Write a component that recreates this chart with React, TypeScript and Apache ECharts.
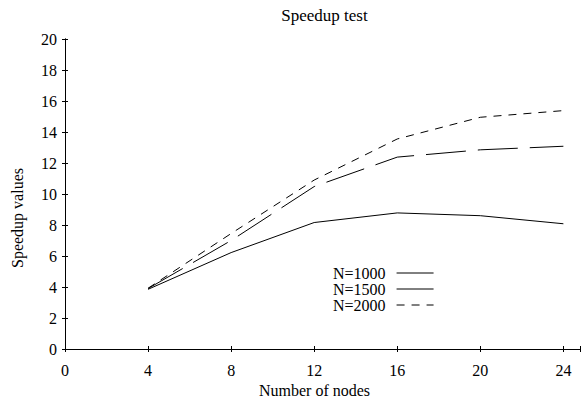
import React, { useEffect, useRef } from "react";
import * as echarts from "echarts";

const xValues = [4, 8, 12, 16, 20, 24];
const n1000 = [3.85, 6.22, 8.16, 8.78, 8.6, 8.08];
const n1500 = [3.9, 7.0, 10.48, 12.38, 12.85, 13.08];
const n2000 = [3.92, 7.45, 10.9, 13.55, 14.95, 15.38];
const seriesNames = ["N=1000", "N=1500", "N=2000"];
const xTicks = [0, 4, 8, 12, 16, 20, 24];

const FONT = "'Liberation Serif', 'DejaVu Serif', serif";

export default function App() {
  const ref = useRef<HTMLDivElement>(null);
  useEffect(() => {
    if (!ref.current) return;
    const chart = echarts.init(ref.current, undefined, { renderer: "svg" });
    const axisCommon = {
      type: "value" as const,
      axisLine: { show: true, lineStyle: { color: "#000", width: 1 } },
      axisTick: { show: true, inside: true, length: 3, lineStyle: { color: "#000", width: 1 } },
      splitLine: { show: false },
    };
    const mk = (name: string, vals: number[], dash: any) => ({
      name,
      type: "line" as const,
      data: xValues.map((x, i) => [x, vals[i]]),
      symbol: "none",
      showSymbol: false,
      lineStyle: { color: "#000", width: 1, type: dash },
      itemStyle: { color: "#000" },
      xAxisIndex: 0,
      yAxisIndex: 0,
    });
    chart.setOption({
      animation: false,
      backgroundColor: "#fff",
      textStyle: { fontFamily: FONT },
      grid: { left: 65, right: 1, top: 39, bottom: 49, outerBoundsMode: "none", containLabel: false },
      graphic: [
        {
          type: "text",
          x: 324.5,
          y: 15,
          style: {
            text: "Speedup test",
            font: `17px ${FONT}`,
            fill: "#000",
            textAlign: "center",
            textVerticalAlign: "middle",
          },
        },
      ],
      legend: {
        orient: "vertical",
        left: 328,
        top: 260,
        align: "right",
        itemWidth: 37,
        itemHeight: 10,
        itemGap: 0,
        padding: 5,
        data: seriesNames,
        itemStyle: { opacity: 0 },
        lineStyle: { width: 1 },
        textStyle: {
          fontFamily: FONT,
          fontSize: 16,
          lineHeight: 16,
          color: "#000",
          padding: [0, 6, 0, 0],
        },
      },
      xAxis: [
        {
          ...axisCommon,
          min: 0,
          max: 24.8,
          interval: 4,
          position: "bottom",
          name: "Number of nodes",
          nameLocation: "middle",
          nameGap: 32,
          nameTextStyle: { fontFamily: FONT, fontSize: 16, color: "#000", padding: [0, 16, 0, 0] },
          axisLabel: {
            color: "#000",
            fontFamily: FONT,
            fontSize: 16,
            margin: 13,
            formatter: (v: number) => (xTicks.includes(v) ? String(v) : ""),
          },
        },
        {
          ...axisCommon,
          min: 0,
          max: 24.8,
          interval: 4,
          position: "top",
          axisLabel: { show: false },
        },
      ],
      yAxis: [
        {
          ...axisCommon,
          min: 0,
          max: 20,
          interval: 2,
          position: "left",
          name: "Speedup values",
          nameLocation: "middle",
          nameGap: 40,
          nameRotate: 90,
          nameTextStyle: {
            fontFamily: FONT,
            fontSize: 16,
            color: "#000",
            padding: [0, 48, 0, 0],
          },
          axisLabel: { color: "#000", fontFamily: FONT, fontSize: 16, margin: 8 },
        },
        {
          ...axisCommon,
          min: 0,
          max: 20,
          interval: 2,
          position: "right",
          axisLabel: { show: false },
        },
      ],
      series: [
        mk(seriesNames[0], n1000, "solid"),
        mk(seriesNames[1], n1500, [40, 12]),
        mk(seriesNames[2], n2000, [8, 7]),
      ],
    });
    return () => chart.dispose();
  }, []);
  return <div ref={ref} style={{ width: 581, height: 398, position: "absolute", left: 0, top: 0 }} />;
}
